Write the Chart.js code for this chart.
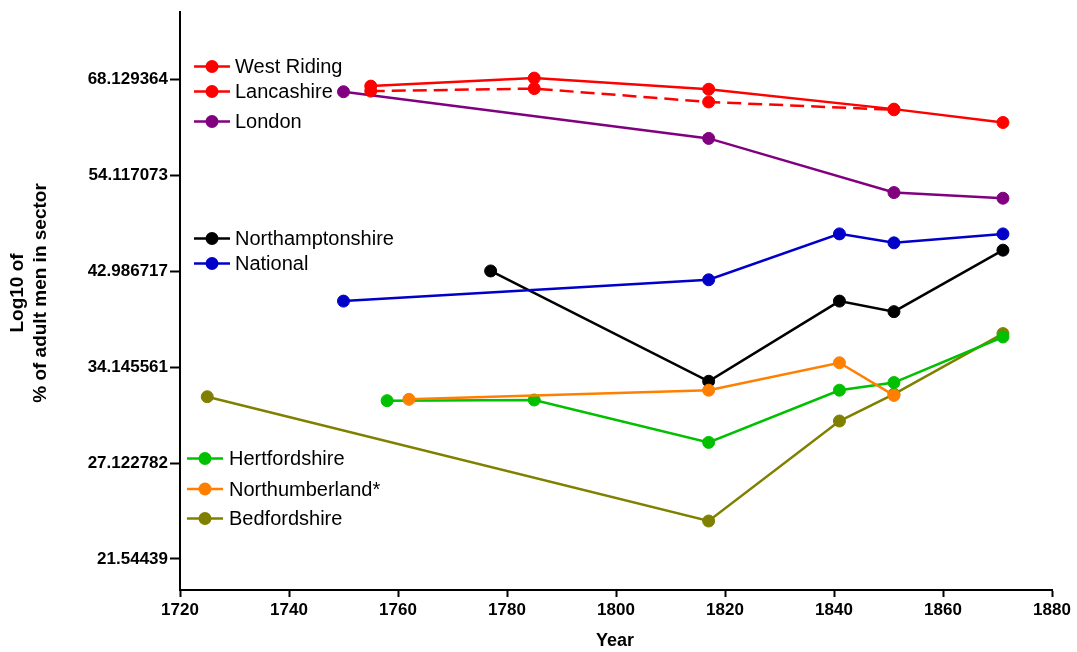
<!DOCTYPE html>
<html>
<head>
<meta charset="utf-8">
<script src="https://cdn.jsdelivr.net/npm/chart.js@4.4.1/dist/chart.umd.min.js"></script>
<style>
  html, body { margin: 0; padding: 0; background: #ffffff; }
  #wrap { width: 1077px; height: 652px; }
</style>
</head>
<body>
<div id="wrap"><canvas id="c" width="1077" height="652"></canvas></div>
<script>
// ---- data ----
const westRidingYears   = [1755, 1785, 1817, 1851, 1871];
const westRidingValues  = [67.0, 68.3, 66.5, 63.4, 61.4];
const lancashireYears   = [1755, 1785, 1817, 1851];
const lancashireValues  = [66.2, 66.6, 64.5, 63.3];
const londonYears       = [1750, 1817, 1851, 1871];
const londonValues      = [66.1, 59.1, 51.9, 51.2];
const northantsYears    = [1777, 1817, 1841, 1851, 1871];
const northantsValues   = [43.0, 33.0, 40.0, 39.0, 45.2];
const nationalYears     = [1750, 1817, 1841, 1851, 1871];
const nationalValues    = [40.0, 42.1, 47.0, 46.0, 47.0];
const hertsYears        = [1758, 1785, 1817, 1841, 1851, 1871];
const hertsValues       = [31.5, 31.55, 28.5, 32.3, 32.9, 36.7];
const northumbYears     = [1762, 1817, 1841, 1851];
const northumbValues    = [31.6, 32.3, 34.5, 31.9];
const bedsYears         = [1725, 1817, 1841, 1851, 1871];
const bedsValues        = [31.8, 23.6, 30.0, 32.0, 37.0];

const yTickValues = [21.54439, 27.122782, 34.145561, 42.986717, 54.117073, 68.129364];
const yTickLabels = ["21.54439", "27.122782", "34.145561", "42.986717", "54.117073", "68.129364"];
const xTickYears  = [1720, 1740, 1760, 1780, 1800, 1820, 1840, 1860, 1880];

const xTitle = "Year";
const yTitleLines = ["Log10 of", "% of adult men in sector"];

function pts(xs, ys) { return xs.map((x, i) => ({ x: x, y: ys[i] })); }

const FONT = "'Liberation Sans', Arial, Helvetica, sans-serif";

function series(label, xs, ys, color, order, dash) {
  return {
    label: label,
    data: pts(xs, ys),
    borderColor: color,
    backgroundColor: color,
    pointBackgroundColor: color,
    pointBorderColor: color,
    pointRadius: 6,
    pointBorderWidth: 1,
    pointHoverRadius: 6,
    borderWidth: 2.5,
    borderDash: dash || [],
    tension: 0,
    fill: false,
    order: order
  };
}

const datasets = [
  series("West Riding", westRidingYears, westRidingValues, "#ff0000", 1),
  series("Lancashire", lancashireYears, lancashireValues, "#ff0000", 2, [14, 7]),
  series("London", londonYears, londonValues, "#800080", 3),
  series("Northamptonshire", northantsYears, northantsValues, "#000000", 5),
  series("National", nationalYears, nationalValues, "#0000c8", 4),
  series("Hertfordshire", hertsYears, hertsValues, "#00c000", 6),
  series("Northumberland*", northumbYears, northumbValues, "#ff8000", 4.5),
  series("Bedfordshire", bedsYears, bedsValues, "#808000", 7)
];

// legend layout: [dataset index, y, lineStart, lineEnd, textX]
const legendLayout = [
  [0, 66.5, 194, 230, 235],
  [1, 91.5, 194, 230, 235],
  [2, 121.5, 194, 230, 235],
  [3, 238.5, 194, 230, 235],
  [4, 263.5, 194, 230, 235],
  [5, 458.5, 187, 223, 229],
  [6, 489, 187, 223, 229],
  [7, 518.5, 187, 223, 229]
];

const overlay = {
  id: 'overlay',
  afterDraw(chart) {
    const ctx = chart.ctx;
    ctx.save();
    // legend
    legendLayout.forEach(([di, y, x0, x1, tx]) => {
      const ds = chart.data.datasets[di];
      ctx.strokeStyle = ds.borderColor;
      ctx.lineWidth = 2.5;
      ctx.setLineDash([]);
      ctx.beginPath(); ctx.moveTo(x0, y); ctx.lineTo(x1, y); ctx.stroke();
      ctx.fillStyle = ds.borderColor;
      ctx.beginPath(); ctx.arc((x0 + x1) / 2, y, 6.5, 0, Math.PI * 2); ctx.fill();
      ctx.fillStyle = "#000";
      ctx.font = "20px " + FONT;
      ctx.textAlign = "left";
      ctx.textBaseline = "middle";
      ctx.fillText(ds.label, tx, y + 1);
    });
    // axis titles
    ctx.fillStyle = "#000";
    ctx.font = "bold 18px " + FONT;
    ctx.textAlign = "center";
    ctx.textBaseline = "middle";
    ctx.fillText(xTitle, 615, 641);
    ctx.font = "bold 19px " + FONT;
    ctx.translate(0, 293);
    ctx.rotate(-Math.PI / 2);
    ctx.fillText(yTitleLines[0], 0, 18);
    ctx.fillText(yTitleLines[1], 0, 41);
    ctx.restore();
  }
};

new Chart(document.getElementById('c'), {
  type: 'line',
  data: { datasets: datasets },
  options: {
    responsive: false,
    devicePixelRatio: 1,
    animation: false,
    events: [],
    layout: { padding: { top: 10, right: 25, left: 0, bottom: 0 } },
    plugins: { legend: { display: false }, tooltip: { enabled: false }, title: { display: false } },
    scales: {
      x: {
        type: 'linear',
        min: 1720, max: 1880,
        afterFit(scale) { scale.height = 62; },
        afterBuildTicks(scale) { scale.ticks = xTickYears.map(v => ({ value: v })); },
        ticks: {
          callback: (v) => String(v),
          color: "#000",
          font: { family: FONT, size: 17, weight: 'bold' },
          padding: 3,
          maxRotation: 0
        },
        grid: { display: true, drawOnChartArea: false, drawTicks: true, tickLength: 7, tickWidth: 2, tickColor: "#000" },
        border: { display: true, color: "#000", width: 2 }
      },
      y: {
        type: 'logarithmic',
        min: 20, max: 80,
        afterFit(scale) { scale.width = 180; },
        afterBuildTicks(scale) { scale.ticks = yTickValues.map(v => ({ value: v })); },
        ticks: {
          callback: (v, i) => yTickLabels[i],
          color: "#000",
          font: { family: FONT, size: 17, weight: 'bold' },
          padding: 2,
          autoSkip: false
        },
        grid: { display: true, drawOnChartArea: false, drawTicks: true, tickLength: 10, tickWidth: 2, tickColor: "#000" },
        border: { display: true, color: "#000", width: 2 }
      }
    }
  },
  plugins: [overlay]
});
</script>
</body>
</html>
